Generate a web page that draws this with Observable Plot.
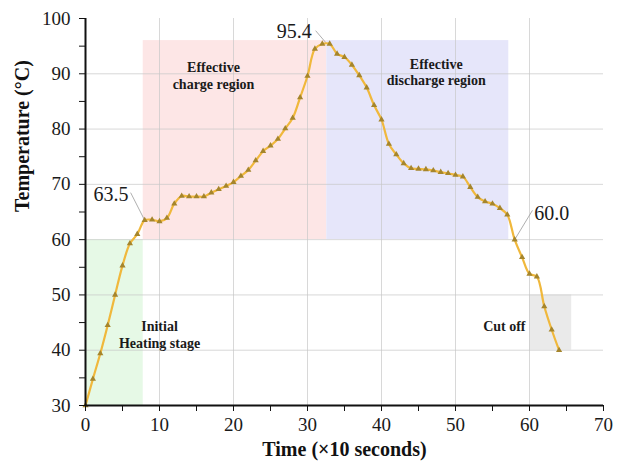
<!DOCTYPE html>
<html>
<head>
<meta charset="utf-8">
<script src="https://cdn.jsdelivr.net/npm/d3@7"></script>
<script src="https://cdn.jsdelivr.net/npm/@observablehq/plot@0.6"></script>
<style>
  html, body { margin: 0; padding: 0; background: #fff; }
  #chart svg { display: block; }
</style>
</head>
<body>
<div id="chart"></div>
<script>
// Time (×10 seconds)
const times = [0,1,2,3,4,5,6,7,8,9,10,11,12,13,14,15,16,17,18,19,20,21,22,23,24,25,26,27,28,29,30,31,32,33,34,35,36,37,38,39,40,41,42,43,44,45,46,47,48,49,50,51,52,53,54,55,56,57,58,59,60,61,62,63,64];
// Temperature (°C)
const temps = [30,34.8,39.4,44.5,50.0,55.3,59.3,61.0,63.5,63.6,63.3,63.9,66.5,67.9,67.8,67.8,67.8,68.5,69.1,69.7,70.4,71.5,72.6,74.3,76.0,77.0,78.2,80.1,82.0,85.7,89.6,94.5,95.4,95.4,93.6,93.0,91.6,89.7,87.5,84.3,81.7,77.3,75.4,73.8,72.9,72.8,72.7,72.5,72.2,72.0,71.7,71.4,69.5,67.7,66.9,66.5,65.7,64.5,60.0,56.8,53.8,53.3,47.9,43.7,40.0];

// Shaded stage regions
const regionNames = ["Initial heating", "Effective charge", "Effective discharge", "Cut off"];
const regionX1 = [0, 7.8, 32.6, 60];
const regionX2 = [7.8, 32.6, 57.2, 65.7];
const regionY1 = [30, 60, 60, 40];
const regionY2 = [60, 96, 96, 50];
const regionFill = ["#e6f9e6", "#fde6e6", "#e6e6fa", "#eaeaea"];

// Region captions (two lines each)
const captionText = ["Effective\ncharge region", "Effective\ndischarge region", "Initial\nHeating stage", "Cut off"];
const captionX = [17.3, 47.4, 10.0, 56.6];
const captionY = [89.7, 90.4, 42.9, 44.5];

// Value call-outs
const calloutText = ["63.5", "95.4", "60.0"];
const calloutX = [3.45, 28.2, 63.0];
const calloutY = [68.1, 97.6, 64.7];
const leaderX1 = [6.1, 31.1, 60.4];
const leaderY1 = [68.5, 97.8, 65.3];
const leaderX2 = [8, 32.5, 58];
const leaderY2 = [63.5, 95.6, 60.0];

// Axis ticks
const xTicks = [0,5,10,15,20,25,30,35,40,45,50,55,60,65,70];
const yTicks = [30,35,40,45,50,55,60,65,70,75,80,85,90,95,100];
const xGrid = [10,20,30,40,50,60];
const yGrid = [40,50,60,70,80,90];

const series = times.map((t, i) => ({t, v: temps[i]}));
const regions = regionNames.map((n, i) => ({n, x1: regionX1[i], x2: regionX2[i], y1: regionY1[i], y2: regionY2[i], fill: regionFill[i]}));
const captions = captionText.map((s, i) => ({s, x: captionX[i], y: captionY[i]}));
const callouts = calloutText.map((s, i) => ({s, x: calloutX[i], y: calloutY[i], x1: leaderX1[i], y1: leaderY1[i], x2: leaderX2[i], y2: leaderY2[i]}));

const serif = "'Liberation Serif', 'Times New Roman', Times, serif";

const chart = Plot.plot({
  width: 625,
  height: 467,
  marginLeft: 85,
  marginRight: 22,
  marginTop: 18,
  marginBottom: 62,
  style: {fontFamily: serif, fontSize: "19px", color: "#1a1a1a", background: "#fff"},
  x: {domain: [0, 70]},
  y: {domain: [30, 100]},
  marks: [
    Plot.rect(regions, {x1: "x1", x2: "x2", y1: "y1", y2: "y2", fill: d => d.fill}),
    Plot.ruleX(xGrid, {y1: 30, y2: 100, stroke: "#c8c8c8", strokeOpacity: 0.7, strokeWidth: 1}),
    Plot.ruleY(yGrid, {x1: 0, x2: 70, stroke: "#c8c8c8", strokeOpacity: 0.7, strokeWidth: 1}),
    Plot.text(captions, {x: "x", y: "y", text: "s", fontWeight: "bold", fontSize: 14, lineHeight: 1.2, fill: "#1a1a1a"}),
    Plot.link(callouts, {x1: "x1", y1: "y1", x2: "x2", y2: "y2", stroke: "#9a9a9a", strokeWidth: 0.8}),
    Plot.text(callouts, {x: "x", y: "y", text: "s", fontSize: 20, fill: "#1a1a1a"}),
    Plot.line(series, {x: "t", y: "v", stroke: "#f0b83c", strokeWidth: 2.2, curve: "catmull-rom"}),
    Plot.dot(series, {x: "t", y: "v", symbol: "triangle", r: 2.3, fill: "#a5852c", stroke: "none"}),
    Plot.axisX({ticks: xTicks, tickFormat: d => d % 10 === 0 ? String(d) : "", tickSize: 6, tickPadding: 6, tickWidth: 1.5, label: null, stroke: "#111", fontSize: 19}),
    Plot.axisY({ticks: yTicks, tickFormat: d => d % 10 === 0 ? String(d) : "", tickSize: 6, tickPadding: 9, tickWidth: 1.5, label: null, stroke: "#111", fontSize: 19}),
    Plot.ruleY([30], {x1: 0, x2: 70, stroke: "#111", strokeWidth: 2}),
    Plot.ruleX([0], {y1: 30, y2: 100, stroke: "#111", strokeWidth: 2}),
    Plot.text(["Time (×10 seconds)"], {frameAnchor: "bottom", dy: 50, fontWeight: "bold", fontSize: 20, fill: "#111"}),
    Plot.text(["Temperature (°C)"], {frameAnchor: "left", dx: -63, rotate: -90, fontWeight: "bold", fontSize: 20, fill: "#111"})
  ]
});

document.getElementById("chart").appendChild(chart);
</script>
</body>
</html>
